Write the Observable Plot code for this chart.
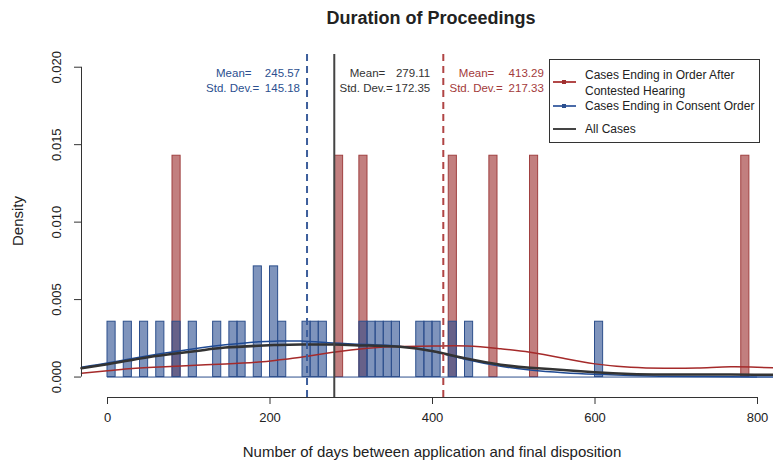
<!DOCTYPE html>
<html><head><meta charset="utf-8">
<script src="https://cdn.jsdelivr.net/npm/d3@7"></script>
<script src="https://cdn.jsdelivr.net/npm/@observablehq/plot@0.6"></script>
<style>
body{margin:0;overflow:hidden;background:#fff;font-family:"Liberation Sans",Arial,Helvetica,sans-serif;}
#wrap{position:relative;width:773px;height:462px;overflow:hidden;background:#fff;}
#chart{position:absolute;left:0;top:0;width:783px;height:462px;}
#chart svg{max-width:none !important;width:783px;height:462px;}
.abs{position:absolute;white-space:nowrap;color:#222;}
#title{left:431px;top:8px;transform:translateX(-50%);font-weight:bold;font-size:18px;line-height:20px;}
#xtitle{left:432px;top:444px;transform:translateX(-50%);font-size:15px;line-height:16px;}
#ytitle{left:18px;top:221px;transform:translate(-50%,-50%) rotate(-90deg);font-size:15px;line-height:16px;}
#legend{position:absolute;left:549px;top:59px;width:211px;height:84px;box-sizing:border-box;border:1px solid #333;background:#fff;}
.lt{position:absolute;left:35px;font-size:12px;line-height:14px;white-space:nowrap;color:#222;}
.ls{position:absolute;left:3px;width:23px;height:2px;}
.lm{position:absolute;left:12px;width:4px;height:4px;}
</style></head><body>
<div id="wrap">
  <div id="chart"></div>
  <div id="title" class="abs">Duration of Proceedings</div>
  <div id="xtitle" class="abs">Number of days between application and final disposition</div>
  <div id="ytitle" class="abs">Density</div>
  <div id="legend"></div>
</div>
<script>
// Histogram bins (bin start, width 10 days) and counts
const binWidth = 10;
const consentBins   = [0,20,40,60,80,100,130,150,160,180,200,210,240,250,260,310,320,330,340,350,380,390,400,420,440,600];
const consentCounts = [1,1,1,1,1,1,1,1,1,2,2,1,1,1,1,1,1,1,1,1,1,1,1,1,1,1];
const contestedBins   = [80,280,310,420,470,520,780];
const contestedCounts = [1,1,1,1,1,1,1];

// Density curves
const densityX        = [-32,0,22,50,84,115,145,186,210,238,278,320,360,401,443,484,520,561,600,644,685,726,767,800,832];
const consentDensity  = [.00063,.00090,.00112,.00138,.00165,.00189,.00208,.00228,.00232,.00232,.0022,.0021,.00198,.00165,.00112,.0007,.00045,.00028,.00018,.0001,.00005,.00003,.00002,.00001,.00001];
const allDensity      = [.00057,.00083,.00103,.00128,.00152,.00172,.0019,.00202,.00207,.0021,.0021,.00203,.00195,.00166,.00118,.0008,.0006,.00046,.00031,.0002,.00017,.00016,.00016,.00015,.00014];
const contestedDensity= [.00025,.0004,.00052,.00062,.0007,.00078,.00085,.00097,.0011,.00128,.0016,.00186,.00198,.002,.002,.00182,.0016,.00121,.00085,.00063,.00057,.00059,.00066,.00063,.00057];

// Summary statistics
const groups = ["consent","all","contested"];
const means  = [245.57, 279.11, 413.29];
const sds    = [145.18, 172.35, 217.33];

const xTicks = [0,200,400,600,800];
const yTicks = [0,0.005,0.010,0.015,0.020];
const legendLabels = ["Cases Ending in Order After|Contested Hearing","Cases Ending in Consent Order","All Cases"];

const colors = {consent:"#2b4f8f", all:"#333333", contested:"#a33a3a"};

const nConsent = d3.sum(consentCounts), nContested = d3.sum(contestedCounts);
const consentData = consentBins.map((b,i)=>({x1:b, x2:b+binWidth, y:consentCounts[i]/(nConsent*binWidth)}));
const contestedData = contestedBins.map((b,i)=>({x1:b, x2:b+binWidth, y:contestedCounts[i]/(nContested*binWidth)}));
const curve = arr => densityX.map((x,i)=>({x, y:arr[i]}));

const xDomain = [-32, 832];
const yDomain = [-0.00132, 0.02082];
const meanData = groups.map((g,i)=>({g, m:means[i], s:sds[i]}));

const labelDx = {consent:{end:-7, m:-91, s:-101}, all:{end:96, m:15.5, s:5.2}, contested:{end:100.5, m:15.5, s:6.2}};

const chart = Plot.plot({
  width: 783, height: 462,
  marginTop: 54, marginBottom: 65, marginLeft: 81, marginRight: 0,
  x: {domain: xDomain},
  y: {domain: yDomain},
  style: {fontFamily: '"Liberation Sans", Arial, sans-serif', background: "transparent", overflow: "visible", maxWidth: "none"},
  marks: [
    Plot.rect(contestedData, {x1:"x1", x2:"x2", y1:0, y2:"y", fill:"#9a2a2a", fillOpacity:0.6, stroke:"#a04040", strokeWidth:1}),
    Plot.rect(consentData, {x1:"x1", x2:"x2", y1:0, y2:"y", fill:"#2a4d8f", fillOpacity:0.6, stroke:"#2d4f8c", strokeWidth:1}),
    Plot.ruleY([0], {x1: xTicks[0], x2: xTicks[xTicks.length-1], stroke:"#2d4f8c", strokeWidth:1}),
    Plot.line(curve(contestedDensity), {x:"x", y:"y", stroke:"#a52a2a", strokeWidth:1.5, curve:"natural"}),
    Plot.line(curve(consentDensity), {x:"x", y:"y", stroke:"#1f4a94", strokeWidth:1.5, curve:"natural"}),
    Plot.line(curve(allDensity), {x:"x", y:"y", stroke:"#333", strokeWidth:2.5, curve:"natural"}),
    Plot.ruleX(meanData.filter(d=>d.g!=="all"), {x:"m", stroke:d=>d.g==="consent"?"#3d5e9c":"#b04444", strokeWidth:2, strokeDasharray:"7,5"}),
    Plot.ruleX(meanData.filter(d=>d.g==="all"), {x:"m", stroke:"#444", strokeWidth:2}),
    // mean / sd labels
    ...meanData.flatMap(d=>[
      Plot.text([d], {x:"m", frameAnchor:"top", dy:14, dx:labelDx[d.g].m, text:()=>"Mean=", textAnchor:"start", fill:colors[d.g], fontSize:11.5}),
      Plot.text([d], {x:"m", frameAnchor:"top", dy:14, dx:labelDx[d.g].end, text:x=>x.m.toFixed(2), textAnchor:"end", fill:colors[d.g], fontSize:11.5}),
      Plot.text([d], {x:"m", frameAnchor:"top", dy:29, dx:labelDx[d.g].s, text:()=>"Std. Dev.=", textAnchor:"start", fill:colors[d.g], fontSize:11.5}),
      Plot.text([d], {x:"m", frameAnchor:"top", dy:29, dx:labelDx[d.g].end, text:x=>x.s.toFixed(2), textAnchor:"end", fill:colors[d.g], fontSize:11.5})
    ]),
    // axes
    Plot.ruleY([yDomain[0]], {x1: xTicks[0], x2: xTicks[xTicks.length-1], stroke:"#333"}),
    Plot.axisX({ticks: xTicks, tickSize: 7, tickPadding: 8, fontSize: 13, label: null, tickFormat: d3.format("d"), stroke:"#333", color:"#222"}),
    Plot.ruleX([xDomain[0]], {y1: yTicks[0], y2: yTicks[yTicks.length-1], stroke:"#333"}),
    Plot.axisY({ticks: yTicks, tickSize: 7, tickFormat: () => "", label: null, stroke:"#333"}),
    Plot.text(yTicks, {y: d=>d, frameAnchor:"left", dx:-25, rotate:-90, textAnchor:"middle", lineAnchor:"middle", text: d3.format(".3f"), fontSize:13, fill:"#222"})
  ]
});
document.getElementById("chart").appendChild(chart);

// Legend
const leg = document.getElementById("legend");
const legColors = [["#b24848","#a03030"],["#4a6ba8","#2b4f8f"],["#444","#444"]];
const legRows = [{lines:[16,31.7], sample:23.3, marker:true},{lines:[46.7], sample:46.7, marker:true},{lines:[70], sample:70, marker:false}];
legRows.forEach((r,i)=>{
  const parts = legendLabels[i].split("|");
  parts.forEach((p,j)=>{
    const t = document.createElement("div"); t.className="lt"; t.textContent=p;
    t.style.top = (r.lines[j]-1-7)+"px"; leg.appendChild(t);
  });
  const s = document.createElement("div"); s.className="ls"; s.style.background=legColors[i][0];
  s.style.top=(r.sample-1-1)+"px"; leg.appendChild(s);
  if (r.marker){ const m=document.createElement("div"); m.className="lm"; m.style.background=legColors[i][1]; m.style.top=(r.sample-1-2)+"px"; leg.appendChild(m); }
});
</script>
</body></html>
